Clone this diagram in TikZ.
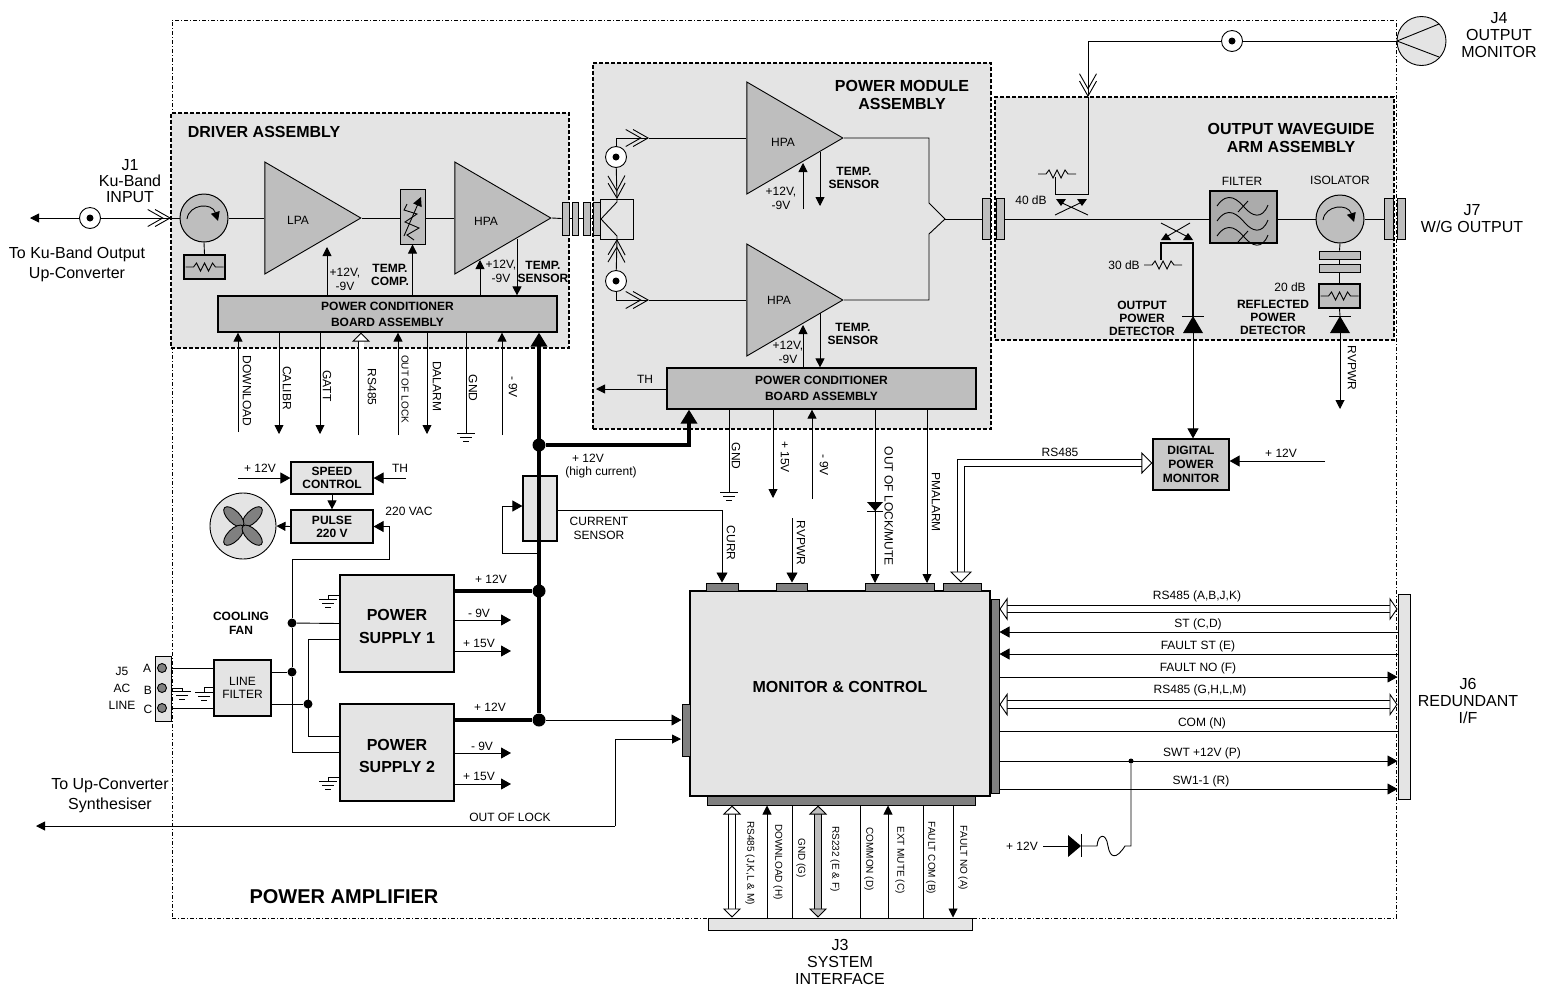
\documentclass[tikz,border=0pt]{standalone}
\usepackage{fontspec}
\setmainfont{Liberation Sans}
\usetikzlibrary{arrows.meta,calc,shapes.geometric}
\definecolor{boxgray}{HTML}{E4E4E4}
\definecolor{ampgray}{HTML}{BEBEBE}
\definecolor{tabgray}{HTML}{808080}
\newcommand{\gndmark}[1]{\draw[shift={(#1)}] (-9,0) -- (9,0) (-6,4) -- (6,4) (-3,8) -- (3,8);}
\newcommand{\zigmark}[1]{\draw[shift={(#1)}] (-19,0) -- (-11,0) -- (-8,-4) -- (-4,4) -- (0,-4) -- (4,4) -- (8,-4) -- (11,0) -- (19,0);}
\newcommand{\diodeup}[1]{\fill[shift={(#1)}] (0,0) -- (-10,17) -- (10,17) -- cycle; \draw[shift={(#1)}] (-11,0) -- (11,0);}
\newcommand{\spinarrow}[1]{\draw[->,shift={(#1)}] (-17,1) .. controls (-15,-14) and (8,-16) .. (14,3);}
\newcommand{\wavemark}[1]{\draw[shift={(#1)}] (-26,-11) .. controls (-15,-27) and (-5,-17) .. (2,-9) .. controls (9,-1) and (19,3) .. (25,-12);}

\begin{document}
\begin{tikzpicture}[x=1pt,y=-1pt,line width=.9pt,>={Triangle[length=9pt,width=9pt]},
    lab/.style={font=\fontsize{12}{14}\selectfont,inner sep=0pt,align=center},
    labb/.style={font=\fontsize{12}{13}\selectfont\bfseries,inner sep=0pt,align=center},
    big/.style={font=\fontsize{16}{17}\selectfont,inner sep=0pt,align=center},
    bigb/.style={font=\fontsize{16}{18}\selectfont\bfseries,inner sep=0pt,align=center},
    vlab/.style={lab,rotate=-90},
    vsm/.style={font=\fontsize{10}{12}\selectfont,inner sep=0pt,rotate=-90},
    asm/.style={draw,fill=boxgray,dashed,line width=1.1pt,dash pattern=on 4pt off 2pt,inner sep=0pt},
    part/.style={draw,fill=boxgray,line width=1.2pt,inner sep=0pt,align=center},
    pcb/.style={part,fill=ampgray,font=\fontsize{12}{16}\selectfont\bfseries},
    tab/.style={draw,fill=tabgray,line width=1pt,inner sep=0pt},
    flange/.style={draw,fill=ampgray,line width=1pt,inner sep=0pt,minimum width=7pt},
    amp/.style={draw,fill=ampgray,isosceles triangle,isosceles triangle stretches,inner sep=0pt,
      minimum height=96pt,minimum width=112pt,anchor=apex},
    coax/.style={draw,circle,fill=white,minimum size=21pt,inner sep=0pt,
      path picture={\fill[black] (path picture bounding box.center) circle (3.5pt);}},
    rot/.style={draw,circle,fill=ampgray,line width=1pt,minimum size=48pt,inner sep=0pt},
    bigdot/.style={circle,fill,minimum size=13pt,inner sep=0pt},
    jdot/.style={circle,fill,minimum size=9pt,inner sep=0pt},
    bus/.style={line width=4pt},
    hv/.style={->,>={Triangle[length=10pt,width=11pt]}},
    chev/.style={-{Straight Barb[length=15pt,width=17pt,sep=-9pt]Straight Barb[length=15pt,width=17pt]}},
    widev/.style={double,double distance=6.5pt,{Triangle[length=9pt,width=18pt,fill=white]}-{Triangle[length=9pt,width=18pt,fill=white]}},
    wideh/.style={double,double distance=6.5pt,{Triangle[length=8pt,width=23pt,fill=white]}-{Triangle[length=8pt,width=23pt,fill=white]}}]
  \useasboundingbox (0,0) rectangle (1553,997);
  \node (frame) [draw,inner sep=0pt,minimum width=1224pt,minimum height=898pt,dash pattern=on 4pt off 2pt on 1pt off 2pt] at (784,469) {};
  \node (drvasm) [asm,minimum width=398pt,minimum height=235pt] at (370,230.5) {};
  \node (pmasm) [asm,minimum width=398pt,minimum height=366pt] at (792,246) {};
  \node (wgasm) [asm,minimum width=399pt,minimum height=243pt] at (1194.5,218.5) {};
  \node (drvtitle) [bigb] at (264,132) {DRIVER ASSEMBLY};
  \node (pmtitle) [bigb] at (902,95) {POWER MODULE\\ASSEMBLY};
  \node (wgtitle) [bigb] at (1291,138) {OUTPUT WAVEGUIDE\\ARM ASSEMBLY};
  \node (paname) [font=\fontsize{20}{22}\selectfont\bfseries,inner sep=0pt] at (344,897) {POWER  AMPLIFIER};

  \node (j1lab) [big] at (130,181) {J1\\[-1pt]Ku-Band\\[-1pt]INPUT};
  \node (kutext) [big] at (77,264.5) {To Ku-Band Output\\[3pt]Up-Converter};
  \node (synth) [big] at (110,796) {To Up-Converter\\[3pt]Synthesiser};
  \node (j4lab) [big] at (1499,35) {J4\\OUTPUT\\MONITOR};
  \node (j7lab) [big] at (1472,219) {J7\\W/G OUTPUT};
  \node (j6lab) [big] at (1468,701) {J6\\REDUNDANT\\I/F};
  \node (j3lab) [big] at (840,962) {J3\\SYSTEM\\INTERFACE};
  \node (j5lab) [lab,font=\fontsize{12}{17}\selectfont] at (122,688) {J5\\AC\\LINE};

  \coordinate (j1end) at (30,218);
  \coordinate (chevA) at (171,218);
  \node (cxA) [coax] at (90,218) {};
  \node (circ) [rot] at (204,218) {};
  \node (loadA) [part,fill=ampgray,minimum width=41pt,minimum height=24pt] at (204.5,267) {};
  \node (lpa) [amp] at (362,218) {};
  \node (attn) [part,fill=ampgray,line width=1pt,minimum width=25pt,minimum height=55pt] at (412.5,216.5) {};
  \node (hpaA) [amp] at (552,218) {};
  \node (lpatxt) [lab] at (298,220) {LPA};
  \node (hpaAtxt) [lab] at (486,221) {HPA};
  \node (pcbA) [pcb,minimum width=339pt,minimum height=36pt] at (387.5,314) {POWER CONDITIONER\\BOARD ASSEMBLY};
  \draw[->] (cxA) -- (j1end);
  \draw[chev] (cxA) -- (chevA);
  \draw (chevA) -- (circ.west);
  \draw (circ.east) -- (lpa.lower side);
  \draw (circ.south) -- (loadA.north);
  \draw (lpa.apex) -- (attn.west |- lpa.apex);
  \draw (attn.east |- lpa.apex) -- (hpaA.lower side);
  \spinarrow{circ}
  \zigmark{loadA}
  \draw (407,204) -- (404,210) -- (417,214) -- (405,222) -- (419,228) -- (407,235) -- (414,240);
  \draw[->] (404,236) -- (421,197);

  \coordinate (lpapwr) at (327,247);
  \coordinate (hpapwr) at (480,260);
  \coordinate (hpasns) at (517,239);
  \draw[->] (pcbA.north -| lpapwr) -- (lpapwr);
  \draw[->] (pcbA.north -| attn.south) -- (attn.south);
  \draw[->] (pcbA.north -| hpapwr) -- (hpapwr);
  \draw[->] (hpasns) -- (pcbA.north -| hpasns);
  \node (lpav) [lab] at (345,279) {+12V,\\-9V};
  \node (tcomp) [labb] at (390,275) {TEMP.\\COMP.};
  \node (hpav) [lab] at (501,271) {+12V,\\-9V};
  \node (tsnsA) [labb] at (543,271.5) {TEMP.\\SENSOR};

  \coordinate (dlend) at (238,432);
  \coordinate (calend) at (279,434);
  \coordinate (gatend) at (320,434);
  \coordinate (rsend) at (361,435);
  \coordinate (oolend) at (398,435);
  \coordinate (dalend) at (427,434);
  \coordinate (gndA) at (466,433);
  \coordinate (nineA) at (502,435);
  \draw[->] (dlend) -- (pcbA.south -| dlend);
  \draw[->] (pcbA.south -| calend) -- (calend);
  \draw[->] (pcbA.south -| gatend) -- (gatend);
  \draw[-{Triangle[length=9pt,width=18pt,fill=white]},double,double distance=5pt] (rsend) -- (pcbA.south -| rsend);
  \draw[->] (oolend) -- (pcbA.south -| oolend);
  \draw[->] (pcbA.south -| dalend) -- (dalend);
  \draw (pcbA.south -| gndA) -- (gndA);
  \draw[->] (nineA) -- (pcbA.south -| nineA);
  \gndmark{gndA}
  \node (dltxt) [vlab] at (247,391) {DOWNLOAD};
  \node (caltxt) [vlab] at (287,388) {CALIBR};
  \node (gattxt) [vlab] at (327,386) {GATT};
  \node (rstxt) [vlab] at (372,387) {RS485};
  \node (ooltxt) [vsm] at (405,389) {OUT OF LOCK};
  \node (daltxt) [vlab] at (437,386) {DALARM};
  \node (gndtxtA) [vlab] at (473,388) {GND};
  \node (ninetxtA) [vlab] at (513,387) {- 9V};

  \coordinate (chevB) at (649,138);
  \coordinate (chevC) at (649,300);
  \coordinate (chevD) at (617,199);
  \coordinate (chevE) at (617,239);
  \node (hyb) [draw,inner sep=0pt,minimum width=33pt,minimum height=40pt] at (616.5,219) {};
  \node (cxB) [coax] at (616,157) {};
  \node (cxC) [coax] at (616,281) {};
  \node (hpaB) [amp] at (844,138) {};
  \node (hpaC) [amp] at (844,300) {};
  \node (hpaBtxt) [lab] at (783,142) {HPA};
  \node (hpaCtxt) [lab] at (779,300) {HPA};
  \draw[chev] (cxB) -- (chevD);
  \draw[chev] (cxC) -- (chevE);
  \draw[chev] (cxB) -- (cxB |- chevB) -- (chevB);
  \draw[chev] (cxC) -- (cxC |- chevC) -- (chevC);
  \draw (chevB) -- (hpaB.lower side);
  \draw (chevC) -- (hpaC.lower side);
  \draw (chevD) -- (617,202) -- (601,219) -- (617,236) -- (chevE);

  \coordinate (combA) at (929,138);
  \coordinate (combB) at (929,300);
  \coordinate (combC) at (945,219);
  \draw (hpaB.apex) -- (combA) -- (929,203) -- (combC) -- (929,234) -- (combB) -- (hpaC.apex);
  \node (fe) [flange,minimum width=8pt,minimum height=41pt] at (986,219) {};
  \node (ff) [flange,minimum width=8pt,minimum height=41pt] at (1000,219) {};
  \draw (combC) -- (fe.west);
  \node (fa) [flange,minimum height=33pt] at (565.5,218.5) {};
  \node (fb) [flange,minimum width=6pt,minimum height=33pt] at (575,218.5) {};
  \node (fc) [flange,minimum height=33pt] at (586.5,218.5) {};
  \node (fd) [flange,minimum height=33pt] at (596.5,218.5) {};
  \draw (hpaA.apex) -- (fa.west);
  \draw (fa.east) -- (fb.west);
  \draw (fb.east) -- (fc.west);
  \draw (fc.east) -- (fd.west);

  \node (pcbB) [pcb,minimum width=309pt,minimum height=41pt] at (821.5,388.5) {POWER CONDITIONER\\BOARD ASSEMBLY};
  \coordinate (pwrB) at (803,163);
  \coordinate (pwrBs) at (803,209);
  \coordinate (snsB) at (820,152);
  \coordinate (snsBe) at (820,206);
  \coordinate (pwrC) at (803,325);
  \coordinate (snsC) at (820,313);
  \coordinate (thend) at (596,389);
  \draw[->] (pwrBs) -- (pwrB);
  \draw[->] (snsB) -- (snsBe);
  \draw[->] (pcbB.north -| pwrC) -- (pwrC);
  \draw[->] (snsC) -- (pcbB.north -| snsC);
  \draw[->] (pcbB.west |- thend) -- (thend);
  \node (vB) [lab] at (781,198.5) {+12V,\\-9V};
  \node (vC) [lab] at (788,352) {+12V,\\-9V};
  \node (tsnsB) [labb] at (854,178) {TEMP.\\SENSOR};
  \node (tsnsC) [labb] at (853,333.5) {TEMP.\\SENSOR};
  \node (thB) [lab] at (645,379) {TH};

  \coordinate (gndB) at (729,492);
  \coordinate (plusB) at (773,498);
  \coordinate (nineB) at (812,499);
  \coordinate (lockB) at (875,583);
  \coordinate (almB) at (927,583);
  \draw (pcbB.south -| gndB) -- (gndB);
  \gndmark{gndB}
  \draw[->] (pcbB.south -| plusB) -- (plusB);
  \draw[->] (nineB) -- (pcbB.south -| nineB);
  \draw[->] (pcbB.south -| lockB) -- (lockB);
  \draw[->] (pcbB.south -| almB) -- (almB);
  \fill (867,502) -- (883,502) -- (875,511) -- cycle;
  \draw (867,511) -- (883,511);
  \node (gndtxtB) [vlab] at (736,456) {GND};
  \node (plustxtB) [vlab] at (785,457) {+ 15V};
  \node (ninetxtB) [vlab] at (824,465) {- 9V};
  \node (locktxtB) [vlab] at (889,506) {OUT OF LOCK/MUTE};
  \node (almtxtB) [vlab] at (936,502) {PMALARM};

  \coordinate (cplturn) at (1088,194);
  \coordinate (chevF) at (1088,97);
  \coordinate (j4apex) at (1397,41);
  \node (j4) [draw,circle,fill=boxgray,minimum size=49pt,inner sep=0pt] at (1421.5,41) {};
  \node (cxD) [coax] at (1232,41) {};
  \draw (j4apex) -- (1439,24) (j4apex) -- (1439,57);
  \draw (j4.west) -- (cxD);
  \draw[chev] (cxD) -- (cxD -| chevF) -- (chevF);
  \draw (chevF) -- (cplturn) -- (1055,194) -- (1055,177);
  \zigmark{1057,174}
  \node (db40) [lab] at (1031,200) {40 dB};
  \draw (1055,215) -- (1082,202) (1088,215) -- (1060,202);
  \fill (1056,199) -- (1066,199) -- (1061,206) -- cycle;
  \fill (1077,199) -- (1087,199) -- (1082,206) -- cycle;

  \node (fltbox) [part,fill=ampgray!90!black,minimum width=67pt,minimum height=52pt] at (1243.5,217) {};
  \node (isol) [rot] at (1340,219) {};
  \node (fg) [flange,minimum width=9pt,minimum height=41pt] at (1388.5,219) {};
  \node (fh) [flange,minimum width=8pt,minimum height=41pt] at (1401,219) {};
  \node (plA) [part,fill=ampgray,line width=.9pt,minimum width=41pt,minimum height=8pt] at (1339.5,255) {};
  \node (plB) [part,fill=ampgray,line width=.9pt,minimum width=41pt,minimum height=8pt] at (1339.5,268) {};
  \node (loadB) [part,fill=ampgray,minimum width=41pt,minimum height=24pt] at (1339.5,296) {};
  \node (flttxt) [lab] at (1242,181) {FILTER};
  \node (isotxt) [lab] at (1340,180) {ISOLATOR};
  \node (db30) [lab] at (1124,265) {30 dB};
  \node (db20) [lab] at (1290,287) {20 dB};
  \node (opd) [labb] at (1142,318) {OUTPUT\\POWER\\DETECTOR};
  \node (rpd) [labb] at (1273,317) {REFLECTED\\POWER\\DETECTOR};
  \draw (ff.east) -- (fltbox.west |- ff.east);
  \draw (fltbox.east |- isol.west) -- (isol.west);
  \draw (isol.east) -- (fg.west);
  \draw (isol.south) -- (plA.north);
  \draw (plA.south) -- (plB.north);
  \draw (plB.south) -- (loadB.north);
  \spinarrow{isol}
  \zigmark{loadB}
  \wavemark{1243,217}
  \wavemark{1243,232}
  \wavemark{1243,247}
  \draw (1238,212) -- (1248,201) (1238,242) -- (1248,231);

  \coordinate (cplC) at (1161,243);
  \coordinate (cplD) at (1193,243);
  \coordinate (dioA) at (1193,316);
  \coordinate (dioB) at (1340,316);
  \coordinate (rvend) at (1340,409);
  \draw[line width=1.1pt] (1161,260) -- (cplC) -- (cplD) -- (dioA);
  \draw (1161,223) -- (1188,237) (1190,223) -- (1166,237);
  \fill (1161,240) -- (1171,240) -- (1166,233) -- cycle;
  \fill (1183,240) -- (1193,240) -- (1188,233) -- cycle;
  \zigmark{1163,265}
  \diodeup{dioA}
  \diodeup{dioB}
  \draw (loadB.south) -- (dioB);
  \node (dpm) [part,fill=ampgray!85!white,font=\fontsize{12}{14}\selectfont\bfseries,minimum width=76pt,minimum height=51pt] at (1191,464.5) {DIGITAL\\POWER\\MONITOR};
  \draw[hv] (dioA) -- (dioA |- dpm.north);
  \draw[->] (dioB) -- (rvend);
  \node (rvtxtA) [vlab] at (1352,368) {RVPWR};
  \coordinate (dpmsup) at (1325,461);
  \draw[hv] (dpmsup) -- (dpm.east |- dpmsup);
  \node (dpmsuptxt) [lab] at (1281,453) {+ 12V};

  \node (curr) [part,minimum width=34pt,minimum height=65pt] at (540,508.5) {};
  \node (busA) [bigdot] at (539,591) {};
  \node (busB) [bigdot] at (539,720) {};
  \node (busC) [bigdot] at (539,445) {};
  \coordinate (busD) at (689,445);
  \draw[bus,-{Triangle[length=14pt,width=16pt]}] (busB) -- (pcbA.south -| busB);
  \draw[bus,-{Triangle[length=14pt,width=16pt]}] (busC) -- (busD) -- (pcbB.south -| busD);
  \node (plushc) [lab] at (588,458) {+ 12V};
  \node (hicur) [lab] at (601,472) {(high current)};
  \node (cstxt) [lab] at (599,528.5) {CURRENT\\SENSOR};
  \coordinate (lpA) at (502,553);
  \coordinate (lpB) at (502,506);
  \draw (busA |- lpA) -- (lpA) -- (lpB);
  \draw[hv] (lpB) -- (curr.west |- lpB);

  \node (speed) [part,font=\fontsize{12}{13}\selectfont\bfseries,minimum width=82pt,minimum height=32pt] at (332,478) {SPEED\\CONTROL};
  \node (pulse) [part,font=\fontsize{12}{13}\selectfont\bfseries,minimum width=82pt,minimum height=33pt] at (332,526.5) {PULSE\\220 V};
  \node (fan) [draw,circle,fill=boxgray,minimum size=66pt,inner sep=0pt] at (243,526) {};
  \draw[fill=tabgray,shift={(fan)},rotate=45] (13,0) ellipse (13pt and 6pt);
  \draw[fill=tabgray,shift={(fan)},rotate=135] (13,0) ellipse (13pt and 6pt);
  \draw[fill=tabgray,shift={(fan)},rotate=225] (13,0) ellipse (13pt and 6pt);
  \draw[fill=tabgray,shift={(fan)},rotate=315] (13,0) ellipse (13pt and 6pt);
  \coordinate (spdin) at (238,478);
  \coordinate (thin) at (406,478);
  \draw[hv] (spdin) -- (speed.west);
  \draw[hv] (thin) -- (speed.east);
  \draw[->] (speed.south) -- (pulse.north);
  \draw[->] (pulse.west) -- (fan.east);
  \node (spdtxt) [lab] at (260,468) {+ 12V};
  \node (thtxt) [lab] at (400,468) {TH};
  \node (vactxt) [lab] at (409,511) {220 VAC};

  \node (psuA) [part,minimum width=114pt,minimum height=97pt] at (397,623.5) {};
  \node (psuB) [part,minimum width=114pt,minimum height=97pt] at (397,752.5) {};
  \node (psuAtxt) [font=\fontsize{16}{23}\selectfont\bfseries,inner sep=0pt,align=center] at (397,626) {POWER\\SUPPLY 1};
  \node (psuBtxt) [font=\fontsize{16}{22}\selectfont\bfseries,inner sep=0pt,align=center] at (397,756) {POWER\\SUPPLY 2};
  \node (filt) [part,font=\fontsize{12}{13}\selectfont,minimum width=57pt,minimum height=56pt] at (242.5,688) {LINE\\FILTER};
  \node (j5) [part,line width=1pt,minimum width=16pt,minimum height=65pt] at (163,688.5) {};
  \node (pinA) [draw,circle,fill=tabgray,minimum size=9pt,inner sep=0pt] at (162,668) {};
  \node (pinB) [draw,circle,fill=tabgray,minimum size=9pt,inner sep=0pt] at (162,688) {};
  \node (pinC) [draw,circle,fill=tabgray,minimum size=9pt,inner sep=0pt] at (162,708) {};
  \node (pinAt) [lab] at (147,668) {A};
  \node (pinBt) [lab] at (148,690) {B};
  \node (pinCt) [lab] at (148,709) {C};
  \node (cfan) [labb,font=\fontsize{12}{14}\selectfont\bfseries] at (241,623) {COOLING\\FAN};
  \node (jA) [jdot] at (292,623) {};
  \node (jB) [jdot] at (292,672) {};
  \node (jC) [jdot] at (308,704) {};
  \coordinate (acturn) at (389,559);
  \coordinate (psuAn) at (340,639);
  \coordinate (psuBn) at (340,736);
  \draw[hv] (jA) -- (jA |- acturn) -- (acturn) -- (acturn |- pulse.east) -- (pulse.east);
  \draw (jA) -- (jB);
  \draw (jB) -- (jB |- psuB.west) -- (psuB.west);
  \draw (jA) -- (psuA.west);
  \draw (filt.east |- jB) -- (jB);
  \draw (filt.east |- jC) -- (jC);
  \draw (psuAn) -- (jC |- psuAn) -- (jC |- psuBn) -- (psuBn);
  \draw (j5.east |- pinA) -- (filt.west |- pinA);
  \draw (j5.east |- pinC) -- (filt.west |- pinC);
  \coordinate (gndC) at (182,691);
  \coordinate (gndD) at (204,692);
  \coordinate (gndE) at (328,599);
  \coordinate (gndF) at (328,781);
  \draw (j5.east |- pinB) -- (gndC |- pinB) -- (gndC);
  \draw (filt.west |- 0,687) -- (gndD |- 0,687) -- (gndD);
  \draw (psuA.west |- 0,595) -- (gndE |- 0,595) -- (gndE);
  \draw (psuB.west |- 0,777) -- (gndF |- 0,777) -- (gndF);
  \gndmark{gndC}
  \gndmark{gndD}
  \gndmark{gndE}
  \gndmark{gndF}
  \draw[bus] (psuA.east |- busA) -- (busA);
  \draw[bus] (psuB.east |- busB) -- (busB);
  \node (plA12) [lab] at (491,579) {+ 12V};
  \node (plB12) [lab] at (490,707) {+ 12V};
  \coordinate (nAe) at (511,620);
  \coordinate (pAe) at (511,651);
  \coordinate (nBe) at (511,753);
  \coordinate (pBe) at (511,784);
  \draw[hv] (psuA.east |- nAe) -- (nAe);
  \draw[hv] (psuA.east |- pAe) -- (pAe);
  \draw[hv] (psuB.east |- nBe) -- (nBe);
  \draw[hv] (psuB.east |- pBe) -- (pBe);
  \node (nAt) [lab] at (479,613) {- 9V};
  \node (pAt) [lab] at (479,643) {+ 15V};
  \node (nBt) [lab] at (482,746) {- 9V};
  \node (pBt) [lab] at (479,776) {+ 15V};

  \node (mon) [part,minimum width=300pt,minimum height=205pt] at (840,693.5) {};
  \node (montxt) [bigb] at (840,687) {MONITOR \& CONTROL};
  \node (tabA) [tab,minimum width=32pt,minimum height=8pt] at (722,587) {};
  \node (tabB) [tab,minimum width=31pt,minimum height=8pt] at (791.5,587) {};
  \node (tabC) [tab,minimum width=69pt,minimum height=8pt] at (899.5,587) {};
  \node (tabD) [tab,minimum width=38pt,minimum height=8pt] at (962,587) {};
  \node (tabL) [tab,minimum width=8pt,minimum height=52pt] at (686,730) {};
  \node (tabR) [tab,minimum width=8pt,minimum height=194pt] at (995,696) {};
  \node (tabS) [tab,minimum width=268pt,minimum height=9pt] at (841,800.5) {};
  \node (j6) [part,line width=1pt,minimum width=12pt,minimum height=205pt] at (1404,696.5) {};
  \node (j3) [part,line width=1pt,minimum width=264pt,minimum height=12pt] at (840,924) {};

  \coordinate (curst) at (722,510);
  \coordinate (rvst) at (792,518);
  \draw[hv] (curr.east |- curst) -- (curst) -- (tabA.north);
  \draw[hv] (rvst) -- (tabB.north -| rvst);
  \node (curtxt) [vlab] at (731,543) {CURR};
  \node (rvtxtB) [vlab] at (801,543) {RVPWR};
  \coordinate (rsbend) at (961,463);
  \draw[double,double distance=6.5pt,{Triangle[length=11pt,width=22pt,fill=white]}-{Triangle[length=11pt,width=22pt,fill=white]}] (dpm.west |- rsbend) -- (rsbend) -- (tabD.north -| rsbend);
  \node (rstxtB) [lab] at (1060,452) {RS485};

  \coordinate (outend) at (36,826);
  \coordinate (outturn) at (615,826);
  \coordinate (outin) at (681,739);
  \draw[->] (outturn) -- (outend);
  \draw[->] (outturn) -- (outturn |- outin) -- (outin);
  \draw[hv] (busB) -- (tabL.west |- busB);
  \node (ooltxtC) [lab] at (510,817) {OUT OF LOCK};

  \coordinate (wrA) at (1197,609);
  \coordinate (stA) at (1197,632);
  \coordinate (fsA) at (1197,654);
  \coordinate (fnA) at (1197,677);
  \coordinate (wrB) at (1197,704.5);
  \coordinate (cmA) at (1197,731);
  \coordinate (swA) at (1197,789);
  \node (jD) [circle,fill,minimum size=5pt,inner sep=0pt] at (1131,761) {};
  \draw[wideh] (tabR.east |- wrA) -- (j6.west |- wrA);
  \draw[wideh] (tabR.east |- wrB) -- (j6.west |- wrB);
  \draw[hv] (j6.west |- stA) -- (tabR.east |- stA);
  \draw[hv] (j6.west |- fsA) -- (tabR.east |- fsA);
  \draw[hv] (tabR.east |- fnA) -- (j6.west |- fnA);
  \draw (tabR.east |- cmA) -- (j6.west |- cmA);
  \draw[hv] (tabR.east |- jD) -- (j6.west |- jD);
  \draw[hv] (tabR.east |- swA) -- (j6.west |- swA);
  \node (wrAt) [lab] at (1197,596) {RS485 (A,B,J,K)};
  \node (stAt) [lab] at (1198,624) {ST (C,D)};
  \node (fsAt) [lab] at (1198,646) {FAULT ST (E)};
  \node (fnAt) [lab] at (1198,668) {FAULT NO (F)};
  \node (wrBt) [lab] at (1200,690) {RS485 (G,H,L,M)};
  \node (cmAt) [lab] at (1202,723) {COM (N)};
  \node (swAt) [lab] at (1202,753) {SWT +12V (P)};
  \node (swBt) [lab] at (1201,781) {SW1-1 (R)};

  \coordinate (fuseR) at (1125,846);
  \coordinate (fuseL) at (1097,846);
  \coordinate (dioC) at (1081,846);
  \coordinate (supst) at (1043,846);
  \draw (jD) -- (jD |- fuseR) -- (fuseR) .. controls (1116,860) and (1110,858) .. (1108,846) .. controls (1106,832) and (1098,834) .. (fuseL) -- (dioC);
  \fill (1068,835) -- (1068,857) -- (dioC) -- cycle;
  \draw (1081,834) -- (1081,857) (1068,846) -- (supst);
  \node (suptxt) [lab] at (1022,846) {+ 12V};

  \coordinate (rsL) at (732,860);
  \coordinate (dlL) at (767,860);
  \coordinate (gnL) at (792,860);
  \coordinate (r2L) at (818,860);
  \coordinate (cmL) at (860,860);
  \coordinate (emL) at (888,860);
  \coordinate (fcL) at (923,860);
  \coordinate (fnL) at (953,860);
  \draw[widev] (tabS.south -| rsL) -- (j3.north -| rsL);
  \draw[->] (j3.north -| dlL) -- (tabS.south -| dlL);
  \draw (j3.north -| gnL) -- (tabS.south -| gnL);
  \draw[double=ampgray,double distance=6.5pt,{Triangle[length=9pt,width=18pt,fill=ampgray]}-{Triangle[length=9pt,width=18pt,fill=ampgray]}] (tabS.south -| r2L) -- (j3.north -| r2L);
  \draw (j3.north -| cmL) -- (tabS.south -| cmL);
  \draw[->] (j3.north -| emL) -- (tabS.south -| emL);
  \draw (j3.north -| fcL) -- (tabS.south -| fcL);
  \draw[->] (tabS.south -| fnL) -- (j3.north -| fnL);
  \node (rsLt) [vsm] at (750,863) {RS485  (J,K,L \& M)};
  \node (dlLt) [vsm] at (778,862) {DOWNLOAD (H)};
  \node (gnLt) [vsm] at (801,858) {GND (G)};
  \node (r2Lt) [vsm] at (835,859) {RS232 (E \& F)};
  \node (cmLt) [vsm] at (869,859) {COMMON (D)};
  \node (emLt) [vsm] at (900,860) {EXT MUTE (C)};
  \node (fcLt) [vsm] at (931,858) {FAULT COM (B)};
  \node (fnLt) [vsm] at (963,858) {FAULT NO (A)};
\end{tikzpicture}
\end{document}
